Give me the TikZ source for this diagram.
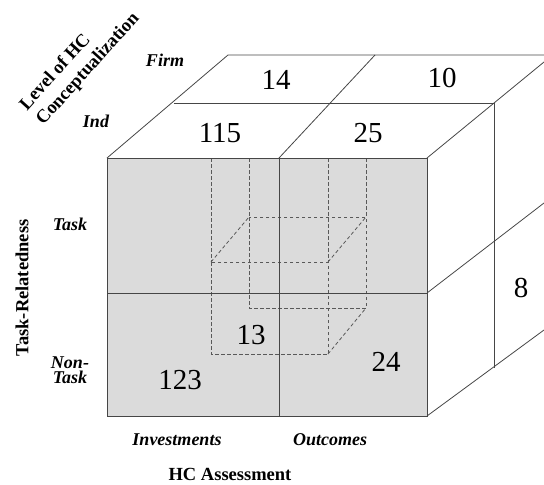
\documentclass[tikz,border=0pt]{standalone}
\usepackage{fontspec}
\setmainfont{Liberation Serif}
\definecolor{facegray}{RGB}{219,219,219}
\definecolor{edgegray}{RGB}{70,70,70}
\tikzset{%
	cube edge/.style={
		draw=edgegray,
		line width=0.8pt
	},
	hidden edge/.style={
		draw=edgegray!90,
		line width=0.8pt,
		dash pattern=on 3.5pt off 2.5pt
	},
	count label/.style={
		inner sep=0pt,
		font=\fontsize{29}{30}\selectfont
	},
	level label/.style={
		inner sep=0pt,
		align=center,
		font=\fontsize{18}{15.5}\selectfont\bfseries\itshape
	},
	axis title/.style={
		inner sep=0pt,
		font=\fontsize{18.5}{22}\selectfont\bfseries
	},
}

\begin{document}
\begin{tikzpicture}[x=1pt, y=-1pt]
\useasboundingbox (0,0) rectangle (544,485);

% front face corners
\coordinate (f-tl) at (107,158);
\coordinate (f-tm) at (279,158);
\coordinate (f-tr) at (427,158);
\coordinate (f-ml) at (107,293);
\coordinate (f-mr) at (427,293);
\coordinate (f-bl) at (107,416);
\coordinate (f-bm) at (279,416);
\coordinate (f-br) at (427,416);
% depth corners
\coordinate (b-tl) at (228,55);
\coordinate (b-tm) at (375,55);
\coordinate (d-tl) at (174,103);
\coordinate (d-tr) at (494,103);
\coordinate (d-br) at (494,368);
% hidden cube
\coordinate (h-ftl) at (211,262);
\coordinate (h-ftr) at (328,262);
\coordinate (h-fbl) at (211,354);
\coordinate (h-fbr) at (328,354);
\coordinate (h-btl) at (249,217);
\coordinate (h-btr) at (366,217);
\coordinate (h-bbl) at (249,308);
\coordinate (h-bbr) at (366,308);

\fill [facegray] (f-tl) rectangle (f-br);

% hidden cube
\foreach \c in {h-ftl,h-btl,h-ftr,h-btr}
\draw [hidden edge] (\c |- f-tl) -- (\c);
\draw [hidden edge] (h-btl) rectangle (h-bbr);
\draw [hidden edge] (h-ftl) rectangle (h-fbr);
\draw [hidden edge] (h-ftl) -- (h-btl);
\draw [hidden edge] (h-ftr) -- (h-btr);
\draw [hidden edge] (h-fbr) -- (h-bbr);

% front face
\draw [cube edge] (f-tl) rectangle (f-br);
\draw [cube edge] (f-tm) -- (f-bm);
\draw [cube edge] (f-ml) -- (f-mr);

% top face
\draw [cube edge] (f-tl) -- (b-tl) -- (544,55);
\draw [cube edge] (f-tm) -- (b-tm);
\draw [cube edge] (d-tl) -- (d-tr);
\draw [cube edge] (f-tr) -- (544,62);

% right face
\draw [cube edge] (d-tr) -- (d-br);
\draw [cube edge] (f-mr) -- (544,203);
\draw [cube edge] (f-br) -- (544,330);

% counts
\node [count label] (c-14)  at (276,80)  {14};
\node [count label] (c-10)  at (442,78)  {10};
\node [count label] (c-115) at (220,133) {115};
\node [count label] (c-25)  at (368,133) {25};
\node [count label] (c-13)  at (251,335) {13};
\node [count label] (c-123) at (180,380) {123};
\node [count label] (c-24)  at (386,362) {24};
\node [count label] (c-8)   at (521,288) {8};

% levels
\node [level label] (firm)    at (165,60)  {Firm};
\node [level label] (ind)     at (96,121)  {Ind};
\node [level label] (task)    at (70,224)  {Task};
\node [level label] (nontask) at (70,370)  {Non-\\Task};
\node [level label] (invest)  at (177,440) {Investments};
\node [level label] (outcome) at (330,440) {Outcomes};

% axis titles
\node [axis title] (assess) at (230,474) {HC Assessment};
\node [axis title, rotate=90] (related) at (22,288) {Task-Relatedness};
\node [axis title, rotate=48, align=left] (concept) at (80,62)
	{Level of HC\\Conceptualization};

\end{tikzpicture}
\end{document}
